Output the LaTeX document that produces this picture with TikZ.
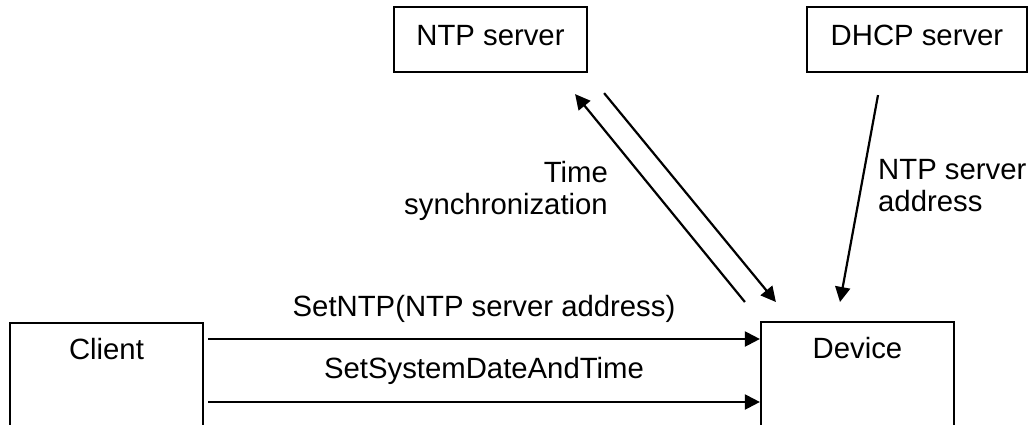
\documentclass[tikz,border=0pt]{standalone}
\usepackage{fontspec}
\setmainfont{Liberation Sans}
\usetikzlibrary{arrows.meta}

\begin{document}
\begin{tikzpicture}[x=1pt, y=-1pt,
every node/.style={font=\fontsize{29.3}{32}\selectfont},
box/.style={draw, line width=2.2pt, inner sep=0pt},
msg/.style={line width=2.2pt, -{Triangle[length=15pt, width=15pt]}}]
\useasboundingbox (0,0) rectangle (1029,424);
\node[box, minimum width=193pt, minimum height=65pt,
text height=21pt, text depth=9pt] (ntp) at (490.5,39.5) {NTP server};
\node[box, minimum width=220pt, minimum height=65pt,
text height=21pt, text depth=9pt] (dhcp) at (917,39.5) {DHCP server};
\node[box, anchor=north, minimum width=193pt, inner ysep=15pt,
text height=21.2pt, text depth=120pt] (client) at (106.5,322) {Client};
\node[box, anchor=north, minimum width=193pt, inner ysep=15pt,
text height=21.2pt, text depth=120pt] (device) at (857.5,321) {Device};
\node[align=right, anchor=north east, inner sep=0pt] (sync) at (608,161) {
Time\\
synchronization};
\node[align=left, anchor=north west, inner sep=0pt] (addr) at (878,159) {
NTP server\\
address};
\draw[msg] ([shift={(4,17)}]client.north east) --
node[anchor=base, yshift=23pt] (setntp) {SetNTP(NTP server address)}
([shift={(0,18)}]device.north west);
\draw[msg] ([shift={(4,80)}]client.north east) --
node[anchor=base, yshift=24pt] (setsys) {SetSystemDateAndTime}
([shift={(0,81)}]device.north west);
\draw[msg] ([shift={(-15,-19)}]device.north west) -- ([shift={(-13,21)}]ntp.south east);
\draw[msg] ([shift={(16,20)}]ntp.south east) -- ([shift={(16,-19)}]device.north west);
\draw[msg] ([shift={(-39,22)}]dhcp.south) -- ([shift={(-17.5,-19)}]device.north);
\end{tikzpicture}
\end{document}
